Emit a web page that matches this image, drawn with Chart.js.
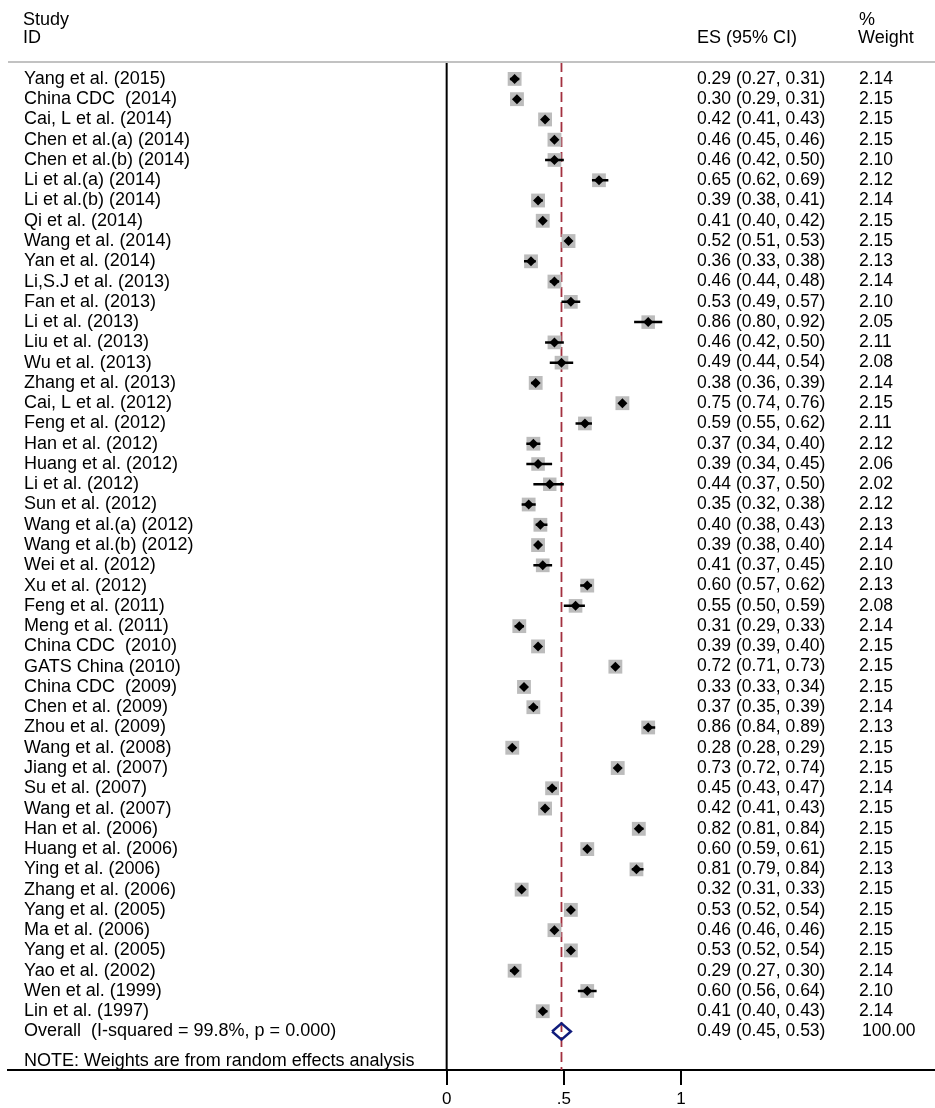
<!DOCTYPE html>
<html>
<head>
<meta charset="utf-8">
<script src="https://cdn.jsdelivr.net/npm/chart.js@4.4.1/dist/chart.umd.min.js"></script>
<style>
  body { margin: 0; background: #fff; }
  #wrap { position: absolute; left: 0; top: 0; width: 935px; height: 1108px; }
</style>
</head>
<body>
<div id="wrap"><canvas id="forest" width="935" height="1108"></canvas></div>
<script>
const studies = [
  "Yang et al. (2015)", "China CDC  (2014)", "Cai, L et al. (2014)", "Chen et al.(a) (2014)",
  "Chen et al.(b) (2014)", "Li et al.(a) (2014)", "Li et al.(b) (2014)", "Qi et al. (2014)",
  "Wang et al. (2014)", "Yan et al. (2014)", "Li,S.J et al. (2013)", "Fan et al. (2013)",
  "Li et al. (2013)", "Liu et al. (2013)", "Wu et al. (2013)", "Zhang et al. (2013)",
  "Cai, L et al. (2012)", "Feng et al. (2012)", "Han et al. (2012)", "Huang et al. (2012)",
  "Li et al. (2012)", "Sun et al. (2012)", "Wang et al.(a) (2012)", "Wang et al.(b) (2012)",
  "Wei et al. (2012)", "Xu et al. (2012)", "Feng et al. (2011)", "Meng et al. (2011)",
  "China CDC  (2010)", "GATS China (2010)", "China CDC  (2009)", "Chen et al. (2009)",
  "Zhou et al. (2009)", "Wang et al. (2008)", "Jiang et al. (2007)", "Su et al. (2007)",
  "Wang et al. (2007)", "Han et al. (2006)", "Huang et al. (2006)", "Ying et al. (2006)",
  "Zhang et al. (2006)", "Yang et al. (2005)", "Ma et al. (2006)", "Yang et al. (2005)",
  "Yao et al. (2002)", "Wen et al. (1999)", "Lin et al. (1997)"
];
const esValues = [
  0.29, 0.30, 0.42, 0.46, 0.46, 0.65, 0.39, 0.41, 0.52, 0.36, 0.46, 0.53,
  0.86, 0.46, 0.49, 0.38, 0.75, 0.59, 0.37, 0.39, 0.44, 0.35, 0.40, 0.39,
  0.41, 0.60, 0.55, 0.31, 0.39, 0.72, 0.33, 0.37, 0.86, 0.28, 0.73, 0.45,
  0.42, 0.82, 0.60, 0.81, 0.32, 0.53, 0.46, 0.53, 0.29, 0.60, 0.41
];
const ciLow = [
  0.27, 0.29, 0.41, 0.45, 0.42, 0.62, 0.38, 0.40, 0.51, 0.33, 0.44, 0.49,
  0.80, 0.42, 0.44, 0.36, 0.74, 0.55, 0.34, 0.34, 0.37, 0.32, 0.38, 0.38,
  0.37, 0.57, 0.50, 0.29, 0.39, 0.71, 0.33, 0.35, 0.84, 0.28, 0.72, 0.43,
  0.41, 0.81, 0.59, 0.79, 0.31, 0.52, 0.46, 0.52, 0.27, 0.56, 0.40
];
const ciHigh = [
  0.31, 0.31, 0.43, 0.46, 0.50, 0.69, 0.41, 0.42, 0.53, 0.38, 0.48, 0.57,
  0.92, 0.50, 0.54, 0.39, 0.76, 0.62, 0.40, 0.45, 0.50, 0.38, 0.43, 0.40,
  0.45, 0.62, 0.59, 0.33, 0.40, 0.73, 0.34, 0.39, 0.89, 0.29, 0.74, 0.47,
  0.43, 0.84, 0.61, 0.84, 0.33, 0.54, 0.46, 0.54, 0.30, 0.64, 0.43
];
const weights = [
  2.14, 2.15, 2.15, 2.15, 2.10, 2.12, 2.14, 2.15, 2.15, 2.13, 2.14, 2.10,
  2.05, 2.11, 2.08, 2.14, 2.15, 2.11, 2.12, 2.06, 2.02, 2.12, 2.13, 2.14,
  2.10, 2.13, 2.08, 2.14, 2.15, 2.15, 2.15, 2.14, 2.13, 2.15, 2.15, 2.14,
  2.15, 2.15, 2.15, 2.13, 2.15, 2.15, 2.15, 2.15, 2.14, 2.10, 2.14
];
const overallLabel = "Overall  (I-squared = 99.8%, p = 0.000)";
const overallES = 0.49;
const overallLow = 0.45;
const overallHigh = 0.53;
const overallWeight = 100.00;
const noteText = "NOTE: Weights are from random effects analysis";
const xTicks = [0, 0.5, 1];

// axis ranges chosen so that 0 -> x 447, 1 -> x 681 and row 0 sits at y 79
const xMin = -1.872, xMax = 2.084;
const yMin = -0.834, yMax = 48.9;
const overallRow = studies.length;

const FONT = "'Liberation Sans', Arial, sans-serif";

const ciPoints = [];
studies.forEach((s, i) => {
  ciPoints.push({ x: ciLow[i], y: i }, { x: ciHigh[i], y: i }, { x: null, y: null });
});
const centers = esValues.map((v, i) => ({ x: v, y: i }));
const dh = 0.4;
const diamond = [
  { x: overallLow, y: overallRow }, { x: overallES, y: overallRow - dh },
  { x: overallHigh, y: overallRow }, { x: overallES, y: overallRow + dh },
  { x: overallLow, y: overallRow }
];

const fmtCI = (e, l, h) => e.toFixed(2) + " (" + l.toFixed(2) + ", " + h.toFixed(2) + ")";

const textColumns = {
  id: "textColumns",
  afterDraw(chart) {
    const { ctx, chartArea, scales } = chart;
    const y = scales.y;
    ctx.save();
    // grey rule under the header
    ctx.strokeStyle = "#c2c2c2";
    ctx.lineWidth = 2;
    ctx.beginPath();
    ctx.moveTo(chartArea.left, chartArea.top);
    ctx.lineTo(chartArea.right, chartArea.top);
    ctx.stroke();

    ctx.fillStyle = "#000";
    ctx.textBaseline = "middle";
    ctx.textAlign = "left";
    ctx.font = "18px " + FONT;
    ctx.fillText("Study", 23, 20);
    ctx.fillText("ID", 23, 38);
    ctx.fillText("ES (95% CI)", 697, 38);
    ctx.fillText("%", 859, 20);
    ctx.fillText("Weight", 858, 38);

    studies.forEach((s, i) => {
      const py = y.getPixelForValue(i);
      ctx.font = "18px " + FONT;
      ctx.fillText(s, 24, py);
      ctx.font = "17.5px " + FONT;
      ctx.fillText(fmtCI(esValues[i], ciLow[i], ciHigh[i]), 697, py);
      ctx.fillText(weights[i].toFixed(2), 859, py);
    });
    const oy = y.getPixelForValue(overallRow);
    ctx.font = "18px " + FONT;
    ctx.fillText(overallLabel, 24, oy);
    ctx.fillText(noteText, 24, y.getPixelForValue(overallRow + 1.45));
    ctx.font = "17.5px " + FONT;
    ctx.fillText(fmtCI(overallES, overallLow, overallHigh), 697, oy);
    ctx.fillText(overallWeight.toFixed(2), 862, oy);
    ctx.restore();
  }
};

new Chart(document.getElementById("forest"), {
  type: "scatter",
  data: {
    datasets: [
      {
        label: "ES",
        data: centers,
        pointStyle: "rectRot",
        pointRadius: 5,
        backgroundColor: "#000",
        borderWidth: 0
      },
      {
        type: "line",
        label: "95% CI",
        data: ciPoints,
        showLine: true,
        spanGaps: false,
        borderColor: "#000",
        borderWidth: 2.5,
        pointRadius: 0
      },
      {
        label: "Weight",
        data: centers,
        pointStyle: "rect",
        pointRadius: weights.map(w => 9.8 * Math.sqrt(w / 2.15)),
        backgroundColor: "#bcbcbc",
        borderWidth: 0
      },
      {
        type: "line",
        label: "Overall",
        data: diamond,
        showLine: true,
        borderColor: "#101c7c",
        borderWidth: 2.5,
        pointRadius: 0,
        tension: 0,
        fill: false
      },
      {
        type: "line",
        label: "Overall line",
        data: [{ x: overallES, y: yMin }, { x: overallES, y: yMax }],
        showLine: true,
        borderColor: "#a3303f",
        borderWidth: 1.8,
        borderDash: [10, 5],
        pointRadius: 0
      },
      {
        type: "line",
        label: "No effect",
        data: [{ x: 0, y: yMin }, { x: 0, y: yMax }],
        showLine: true,
        borderColor: "#000",
        borderWidth: 2,
        pointRadius: 0
      }
    ]
  },
  options: {
    responsive: false,
    animation: false,
    devicePixelRatio: 1,
    events: [],
    layout: { autoPadding: false, padding: { left: 8, right: 0, top: 62, bottom: 0 } },
    plugins: {
      legend: { display: false },
      tooltip: { enabled: false }
    },
    scales: {
      x: {
        type: "linear",
        min: xMin,
        max: xMax,
        afterBuildTicks: (scale) => { scale.ticks = xTicks.map(v => ({ value: v })); },
        afterFit: (scale) => { scale.height = 38; },
        grid: { drawOnChartArea: false, drawTicks: true, tickLength: 15, color: "#000", lineWidth: 2 },
        border: { color: "#000", width: 2 },
        ticks: {
          autoSkip: false,
          maxRotation: 0,
          padding: 4,
          color: "#000",
          font: { family: FONT, size: 17 },
          callback: (v) => (v === 0.5 ? ".5" : String(v))
        }
      },
      y: {
        type: "linear",
        display: false,
        reverse: true,
        min: yMin,
        max: yMax
      }
    }
  },
  plugins: [textColumns]
});
</script>
</body>
</html>
